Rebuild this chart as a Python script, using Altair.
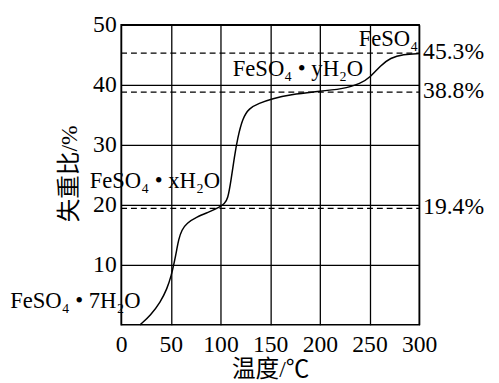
import altair as alt
import pandas as pd

# curve: temperature (°C) vs mass-loss ratio (%)
temps = [19, 29.7, 39.6, 46.2, 50.5, 53.5, 56.1, 57.8, 61.1, 66, 75.9, 89.1, 99, 104,
         107.3, 110.6, 113.9, 117.2, 122.2, 128.7, 138.6, 151.9, 171.7, 191.5,
         224, 241, 251, 261, 271, 284, 300]
loss = [0, 1.6, 3.8, 6.0, 8.2, 10.4, 12.6, 14.2, 15.85, 16.95, 18.0, 18.85, 19.6, 20.2,
        20.9, 24.05, 27.9, 31.1, 34.4, 36.1, 36.9, 37.7, 38.4, 38.8,
        39.3, 40.2, 41.3, 43.2, 44.5, 45.1, 45.2]

ref_values = [45.3, 38.8, 19.4]
ref_labels = ["45.3%", "38.8%", "19.4%"]

phase_labels = ["FeSO₄", "FeSO₄ • yH₂O", "FeSO₄ • xH₂O", "FeSO₄ • 7H₂O"]
phase_x = [269, 178, 34, -46]
phase_y = [47.6, 42.6, 24.0, 3.9]

x_ticks = [0, 50, 100, 150, 200, 250, 300]
y_ticks = [10, 20, 30, 40, 50]

FONT = "Liberation Serif, Noto Sans CJK SC"

curve_df = pd.DataFrame({"t": temps, "w": loss})
ref_df = pd.DataFrame({"v": ref_values, "lab": ref_labels, "x0": [0] * 3, "x1": [300] * 3})
phase_df = pd.DataFrame({"lab": phase_labels, "x": phase_x, "y": phase_y})

xs = alt.Scale(domain=[0, 300], nice=False, zero=False)
ys = alt.Scale(domain=[0, 50], nice=False, zero=False)

xaxis = alt.Axis(values=x_ticks, title="温度/℃", grid=True, ticks=False, domain=False,
                 labelPadding=8, labelFontSize=24, labelFont=FONT, labelColor="black",
                 titleFont=FONT, titleFontSize=24, titleFontWeight="normal", titleColor="black",
                 titleX=151.5, titleY=45, titleBaseline="middle",
                 labelFlush=False, labelBound=False)
yaxis = alt.Axis(values=y_ticks, title="失重比/%", grid=True, ticks=False, domain=False,
                 labelPadding=5, labelFontSize=24, labelFont=FONT, labelColor="black",
                 titleFont=FONT, titleFontSize=24, titleFontWeight="normal", titleColor="black",
                 titleX=-52, titleY=151, titleAngle=-90, titleBaseline="middle", titleAlign="center",
                 labelFlush=False, labelBound=False)

curve = alt.Chart(curve_df).mark_line(color="black", strokeWidth=1.5, interpolate="basis").encode(
    x=alt.X("t:Q", scale=xs, axis=xaxis),
    y=alt.Y("w:Q", scale=ys, axis=yaxis),
)

dashes = alt.Chart(ref_df).mark_rule(color="black", strokeWidth=1.3, strokeDash=[6, 4]).encode(
    x=alt.X("x0:Q", scale=xs), x2="x1:Q", y=alt.Y("v:Q", scale=ys)
)

ref_text = alt.Chart(ref_df).mark_text(align="left", baseline="middle", dx=4, dy=-1,
                                       font=FONT, fontSize=24, color="black").encode(
    x=alt.X("x1:Q", scale=xs), y=alt.Y("v:Q", scale=ys), text="lab:N"
)

phase_text = alt.Chart(phase_df).mark_text(align="center", baseline="middle",
                                           font=FONT, fontSize=23, color="black").encode(
    x=alt.X("x:Q", scale=xs), y=alt.Y("y:Q", scale=ys), text="lab:N"
)

chart = alt.layer(dashes, curve, ref_text, phase_text).properties(
    width=303, height=305,
    autosize=alt.AutoSizeParams(type="none"),
    padding={"left": 115, "top": 14, "right": 73, "bottom": 56},
).configure_view(stroke="black", strokeWidth=1.5).configure_axis(
    gridColor="black", gridOpacity=1, gridWidth=1.3
)

chart.save("out.html", embed_options={"renderer": "svg", "actions": False})
